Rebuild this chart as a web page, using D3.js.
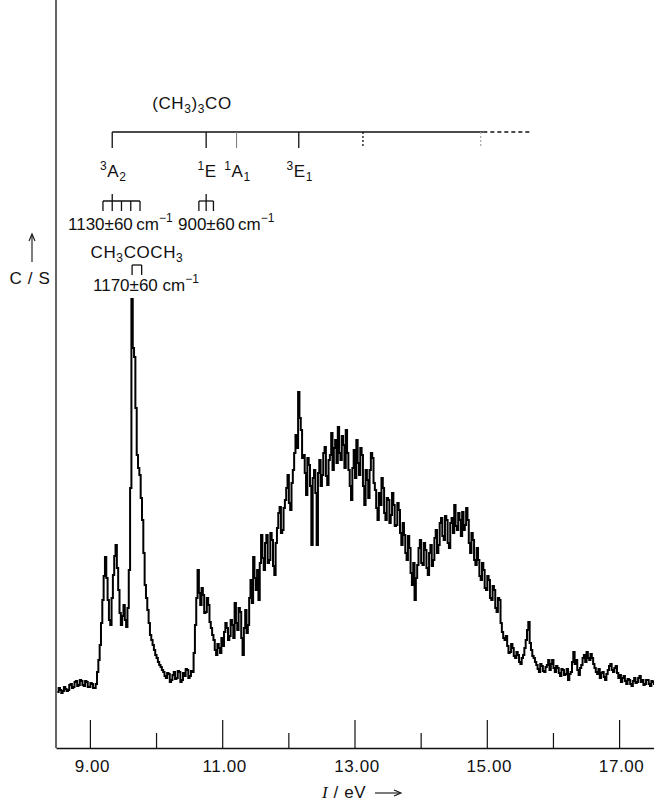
<!DOCTYPE html>
<meta charset="utf-8">
<style>
body { margin: 0; background: #fff; }
svg text { font-family: "Liberation Sans", Arial, sans-serif; fill: #111; letter-spacing: 0.6px; }
svg text.wn { letter-spacing: 0; }
.spec { fill: none; stroke: #000; stroke-width: 2px; }
.ann line { stroke: #111; stroke-width: 1.3px; fill: none; }
</style>
<svg width="654" height="803"></svg>
<script src="https://d3js.org/d3.v7.min.js"></script>
<script>
var svg = d3.select("svg");

// photoelectron counts per channel, channels start at 8.50 eV, step 0.02 eV
var eStart = 8.50, eStep = 0.02;
var counts = [
  56, 60, 58, 55, 57, 61, 59, 57, 58, 63, 64, 60, 61, 66, 67, 62, 63, 68, 67, 63,
  62, 67, 66, 61, 61, 65, 64, 60, 60, 64, 76, 88, 103, 125, 148, 172, 191, 170, 148, 128,
  123, 150, 173, 192, 203, 180, 158, 135, 123, 132, 143, 128, 121, 140, 178, 260, 449, 400, 391, 340,
  293, 280, 273, 250, 228, 195, 163, 150, 138, 125, 113, 108, 103, 98, 93, 90, 86, 83, 81, 78,
  76, 72, 70, 75, 74, 66, 68, 73, 76, 69, 70, 77, 76, 66, 68, 75, 72, 79, 78, 70,
  72, 77, 76, 95, 123, 150, 178, 155, 143, 160, 153, 135, 136, 150, 143, 126, 120, 113, 108, 98,
  93, 104, 100, 95, 110, 102, 116, 125, 120, 108, 112, 128, 123, 110, 145, 125, 118, 140, 136, 110,
  93, 120, 138, 115, 123, 150, 168, 145, 191, 170, 158, 178, 148, 185, 213, 190, 178, 205, 213, 185,
  188, 215, 208, 182, 173, 205, 220, 235, 241, 215, 218, 240, 248, 260, 273, 245, 238, 265, 278, 295,
  313, 300, 356, 330, 318, 290, 293, 275, 253, 290, 283, 262, 203, 270, 278, 255, 203, 275, 288, 262,
  273, 295, 301, 272, 263, 288, 293, 315, 278, 300, 308, 285, 321, 295, 288, 312, 303, 280, 318, 295,
  278, 262, 248, 280, 298, 270, 308, 285, 273, 300, 293, 262, 243, 278, 268, 250, 278, 295, 290, 265,
  258, 240, 228, 255, 243, 270, 260, 235, 228, 250, 248, 225, 233, 255, 243, 222, 223, 245, 238, 215,
  203, 225, 213, 195, 188, 212, 200, 175, 163, 185, 148, 170, 183, 200, 208, 185, 183, 205, 198, 180,
  173, 195, 203, 182, 188, 210, 218, 195, 203, 225, 230, 212, 208, 232, 228, 205, 200, 225, 230, 215,
  243, 222, 218, 235, 228, 212, 236, 218, 223, 240, 228, 205, 195, 215, 208, 188, 183, 200, 188, 172,
  168, 185, 178, 160, 158, 172, 168, 150, 148, 162, 158, 140, 136, 150, 148, 125, 116, 110, 108, 112,
  102, 95, 96, 104, 100, 92, 90, 96, 93, 86, 84, 90, 93, 100, 108, 118, 126, 105, 98, 92,
  90, 86, 83, 79, 76, 84, 82, 77, 76, 81, 83, 88, 78, 84, 88, 80, 76, 82, 80, 75,
  72, 79, 78, 73, 74, 79, 68, 74, 76, 86, 96, 84, 88, 78, 73, 80, 83, 90, 93, 86,
  96, 90, 88, 94, 90, 84, 80, 76, 74, 79, 70, 75, 76, 71, 68, 74, 78, 82, 84, 78,
  76, 80, 82, 75, 70, 73, 66, 70, 72, 67, 64, 69, 68, 64, 62, 67, 70, 65, 66, 70,
  72, 66, 68, 63, 64, 68, 68, 64, 62, 67, 66, 63
];

// (CH3)3CO ionic states
var levelE = [9.33, 10.75, 11.21, 12.15];
var levelSup = ["3", "1", "1", "3"];
var levelMain = ["A", "E", "A", "E"];
var levelSub = ["2", "", "1", "1"];
var dottedE = [13.12, 14.90];
var solidEnd = 14.94, dashedEnd = 15.68;

// vibrational progressions
var comb3A2 = [9.19, 9.33, 9.47, 9.61, 9.75];
var comb1E = [10.64, 10.75, 10.86];
var combAcetone = [9.63, 9.775];

var xTicks = [9, 10, 11, 12, 13, 14, 15, 16, 17];

var x = d3.scaleLinear().domain([8.48, 17.52]).range([56, 654]);
var y = d3.scaleLinear().domain([0, 748]).range([748, 0]);

var data = counts.map(function(c, i) { return { e: eStart + i * eStep, c: c }; });

// axes frame
svg.append("line").attr("x1", 56).attr("x2", 56).attr("y1", 0).attr("y2", 748)
  .attr("stroke", "#111").attr("stroke-width", 1.3);

var xAxis = d3.axisBottom(x).tickValues(xTicks).tickSize(0).tickFormat("");
svg.append("g").attr("transform", "translate(0,748)").call(xAxis)
  .select(".domain").attr("stroke", "#111").attr("stroke-width", 1.3);

svg.append("g").selectAll("line").data(xTicks).enter().append("line")
  .attr("x1", function(d) { return x(d); }).attr("x2", function(d) { return x(d); })
  .attr("y1", function(d) { return d % 2 ? 720 : 733; }).attr("y2", 748)
  .attr("stroke", "#111").attr("stroke-width", 1.2);

svg.append("g").selectAll("text").data(xTicks.filter(function(d) { return d % 2; })).enter()
  .append("text").attr("x", function(d) { return x(d) + 2; }).attr("y", 772)
  .attr("text-anchor", "middle").attr("font-size", 17).text(function(d) { return d.toFixed(2); });

// x label
var xl = svg.append("text").attr("x", 322).attr("y", 798).attr("font-size", 17);
xl.append("tspan").attr("font-style", "italic").attr("font-family", "Liberation Serif, serif").text("I");
xl.append("tspan").text(" / eV");
svg.append("line").attr("x1", 375).attr("x2", 400).attr("y1", 793).attr("y2", 793)
  .attr("stroke", "#111").attr("stroke-width", 1.1);
svg.append("path").attr("d", "M394,790L401,793L394,796").attr("fill", "none")
  .attr("stroke", "#111").attr("stroke-width", 1.1);

// y label
svg.append("text").attr("x", 30).attr("y", 284).attr("text-anchor", "middle")
  .attr("font-size", 17).text("C / S");
svg.append("line").attr("x1", 32).attr("x2", 32).attr("y1", 235).attr("y2", 262)
  .attr("stroke", "#111").attr("stroke-width", 1.1);
svg.append("path").attr("d", "M29,241L32,234L35,241").attr("fill", "none")
  .attr("stroke", "#111").attr("stroke-width", 1.1);

// spectrum
var line = d3.line().curve(d3.curveStepAfter)
  .x(function(d) { return x(d.e); }).y(function(d) { return y(d.c); });
svg.append("path").datum(data).attr("class", "spec").attr("d", line);

// annotations
var ann = svg.append("g").attr("class", "ann");

var t = svg.append("text").attr("x", 192).attr("y", 109).attr("text-anchor", "middle").attr("font-size", 17);
t.append("tspan").text("(CH");
t.append("tspan").attr("font-size", 12).attr("dy", 4).text("3");
t.append("tspan").attr("dy", -4).text(")");
t.append("tspan").attr("font-size", 12).attr("dy", 4).text("3");
t.append("tspan").attr("dy", -4).text("CO");

ann.append("line").attr("x1", x(levelE[0])).attr("x2", x(solidEnd)).attr("y1", 132).attr("y2", 132);
ann.append("line").attr("x1", x(solidEnd)).attr("x2", x(dashedEnd)).attr("y1", 132).attr("y2", 132)
  .attr("stroke-dasharray", "4,3");

ann.selectAll(".lev").data(levelE).enter().append("line")
  .attr("x1", function(d) { return x(d); }).attr("x2", function(d) { return x(d); })
  .attr("y1", 132).attr("y2", 148)
  .style("stroke", function(d, i) { return i == 2 ? "#777" : "#111"; })
  .style("stroke-width", function(d, i) { return i == 2 ? 1 : 1.3; });

ann.selectAll(".dot").data(dottedE).enter().append("line")
  .attr("x1", function(d) { return x(d); }).attr("x2", function(d) { return x(d); })
  .attr("y1", 132).attr("y2", 148).attr("stroke-dasharray", "2,2")
  .style("stroke", function(d, i) { return i ? "#aaa" : "#111"; });

levelE.forEach(function(e, i) {
  var lt = svg.append("text").attr("x", x(e) + 1).attr("y", 177).attr("text-anchor", "middle").attr("font-size", 17);
  lt.append("tspan").attr("font-size", 12).attr("dy", -7).text(levelSup[i]);
  lt.append("tspan").attr("dy", 7).text(levelMain[i]);
  if (levelSub[i]) lt.append("tspan").attr("font-size", 12).attr("dy", 4).text(levelSub[i]);
});

function comb(vals, tall, yTop) {
  ann.append("line").attr("x1", x(vals[0])).attr("x2", x(vals[vals.length - 1]))
    .attr("y1", yTop).attr("y2", yTop);
  ann.selectAll(null).data(vals).enter().append("line")
    .attr("x1", function(d) { return x(d); }).attr("x2", function(d) { return x(d); })
    .attr("y1", function(d) { return d === tall ? yTop - 7 : yTop; }).attr("y2", yTop + 10);
}
comb(comb3A2, 9.33, 201);
comb(comb1E, 10.75, 201);
comb(combAcetone, null, 265);

function wavenumber(str, xx, yy) {
  var w = svg.append("text").attr("class", "wn").attr("x", xx).attr("y", yy).attr("font-size", 17);
  w.append("tspan").text(str);
  w.append("tspan").attr("font-size", 12).attr("dy", -8).text("\u22121");
  return w;
}
wavenumber("1130\u00b160\u2009cm", 68, 230);
wavenumber("900\u00b160\u2009cm", 178, 230);

var ac = svg.append("text").attr("x", 137).attr("y", 258).attr("text-anchor", "middle").attr("font-size", 17);
ac.append("tspan").text("CH");
ac.append("tspan").attr("font-size", 12).attr("dy", 4).text("3");
ac.append("tspan").attr("dy", -4).text("COCH");
ac.append("tspan").attr("font-size", 12).attr("dy", 4).text("3");

wavenumber("1170\u00b160 cm", 93, 291);
</script>
